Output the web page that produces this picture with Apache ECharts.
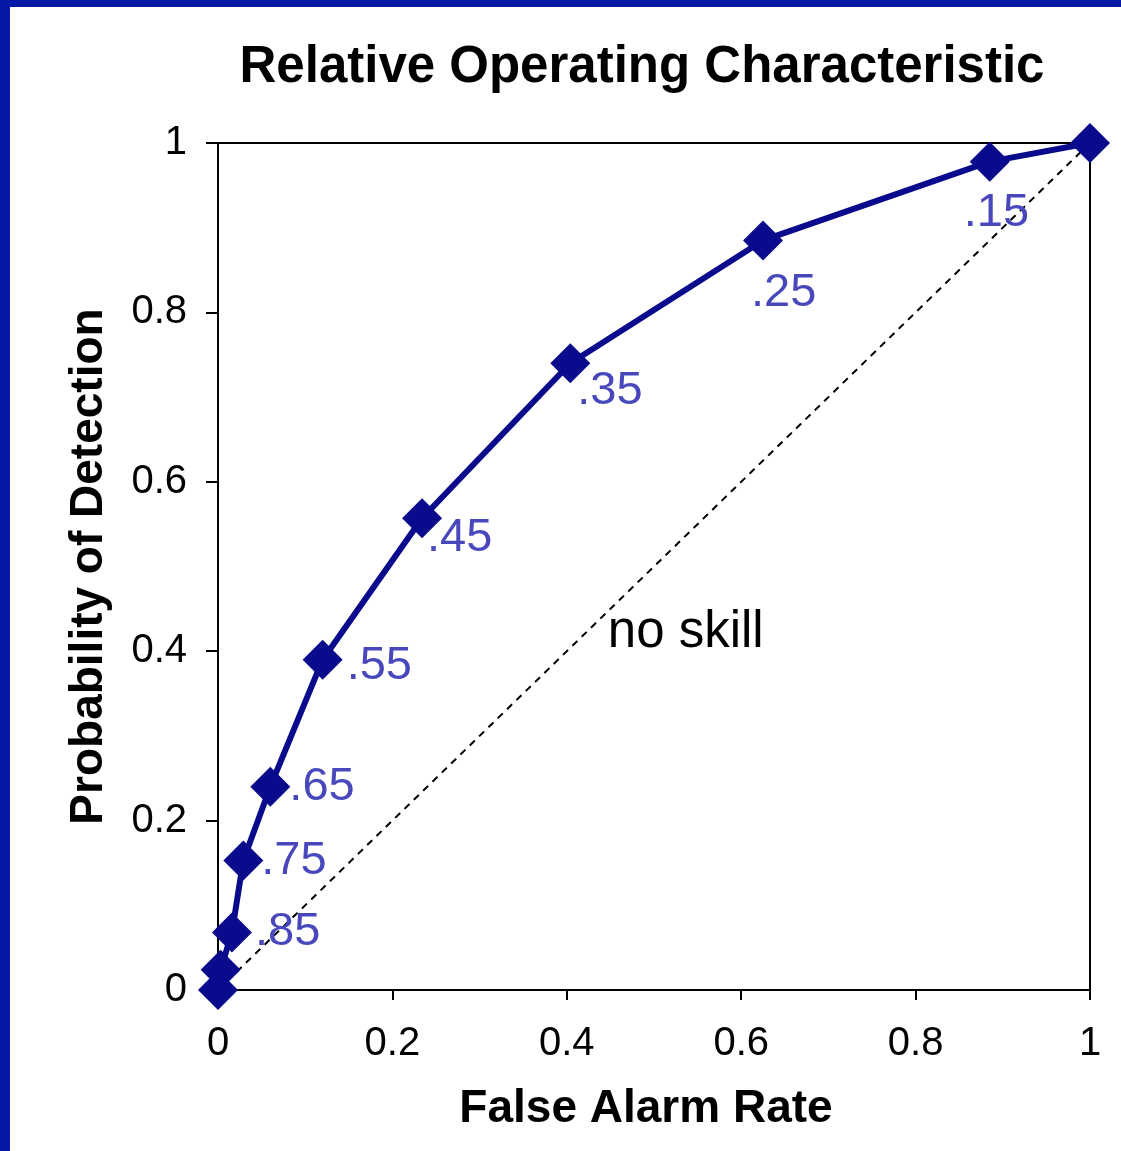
<!DOCTYPE html>
<html>
<head>
<meta charset="utf-8">
<script src="https://cdn.jsdelivr.net/npm/echarts@6/dist/echarts.min.js"></script>
<style>
html,body{margin:0;padding:0;background:#fff;}
#chart{width:1121px;height:1151px;}
</style>
</head>
<body>
<div id="chart"></div>
<script>
// ROC data (false alarm rate, probability of detection) with threshold labels
const falseAlarmRate = [0, 0.003, 0.016, 0.029, 0.06, 0.12, 0.234, 0.404, 0.625, 0.885, 1.0];
const probDetection  = [0, 0.024, 0.068, 0.153, 0.24, 0.39, 0.557, 0.74, 0.885, 0.978, 1.0];
const thresholdLabels = ['', '', '.85', '.75', '.65', '.55', '.45', '.35', '.25', '.15', ''];
const noSkillX = [0, 1];
const noSkillY = [0, 1];
const noSkillText = 'no skill';
const noSkillAt = [0.447, 0.421];
const axisTicks = [0, 0.2, 0.4, 0.6, 0.8, 1];

// label offsets (pixels from the marker centre) – layout only
const labelOffsets = [[0,0],[0,0],[23,0],[18,1],[19,0],[24,6],[5,20],[7,28],[-12,53],[-26,51],[0,0]];

const FONT = '"Liberation Sans", Arial, sans-serif';
const rocData = falseAlarmRate.map((x, i) => ({
  value: [x, probDetection[i]],
  label: {
    show: thresholdLabels[i] !== '',
    formatter: thresholdLabels[i],
    position: 'inside',
    align: 'left',
    verticalAlign: 'middle',
    offset: labelOffsets[i]
  }
}));

const chart = echarts.init(document.getElementById('chart'));
chart.setOption({
  animation: false,
  backgroundColor: '#ffffff',
  title: {
    text: 'Relative Operating Characteristic',
    left: 637, top: 37, textAlign: 'center',
    textStyle: {fontFamily: FONT, fontWeight: 'bold', fontSize: 51, color: '#000'}
  },
  graphic: [
    {type: 'rect', left: 0, top: 0, shape: {width: 1121, height: 7}, style: {fill: '#0619a6'}},
    {type: 'rect', left: 0, top: 0, shape: {width: 10, height: 1151}, style: {fill: '#0619a6'}}
  ],
  grid: {left: 218, right: 31, top: 143, bottom: 161, show: true, borderColor: '#000', borderWidth: 2, backgroundColor: 'transparent'},
  xAxis: {
    type: 'value', min: axisTicks[0], max: axisTicks[axisTicks.length-1], interval: 0.2,
    name: 'False Alarm Rate', nameLocation: 'middle', nameGap: 96,
    nameTextStyle: {fontFamily: FONT, fontWeight: 'bold', fontSize: 46, color: '#000', padding: [0, 16, 0, 0]},
    axisLine: {show: true, onZero: false, lineStyle: {color: '#000', width: 2}},
    axisTick: {show: true, length: 10, lineStyle: {color: '#000', width: 2}},
    axisLabel: {fontFamily: FONT, fontSize: 40, color: '#000', margin: 34},
    splitLine: {show: false}
  },
  yAxis: {
    type: 'value', min: axisTicks[0], max: axisTicks[axisTicks.length-1], interval: 0.2,
    name: 'Probability of Detection', nameLocation: 'middle', nameGap: 106,
    nameTextStyle: {fontFamily: FONT, fontWeight: 'bold', fontSize: 46, color: '#000'},
    axisLine: {show: true, onZero: false, lineStyle: {color: '#000', width: 2}},
    axisTick: {show: true, length: 12, lineStyle: {color: '#000', width: 2}},
    axisLabel: {fontFamily: FONT, fontSize: 40, color: '#000', margin: 31},
    splitLine: {show: false}
  },
  series: [
    {
      type: 'line', name: 'no skill',
      data: noSkillX.map((x, i) => [x, noSkillY[i]]),
      symbol: 'none', silent: true,
      lineStyle: {color: '#000', width: 2, type: [7, 6]},
      z: 1
    },
    {
      type: 'scatter', name: 'annotation',
      data: [{value: noSkillAt}],
      symbolSize: 0, silent: true,
      itemStyle: {opacity: 1, color: '#000'},
      label: {show: true, formatter: noSkillText, position: 'inside', align: 'left', verticalAlign: 'middle',
        fontFamily: FONT, fontSize: 51, color: '#000', opacity: 1}
    },
    {
      type: 'line', name: 'ROC',
      data: rocData,
      symbol: 'diamond', symbolSize: 40, clip: false,
      lineStyle: {color: '#0a0a8c', width: 6},
      itemStyle: {color: '#0a0a8c'},
      label: {fontFamily: FONT, fontSize: 47, color: '#4848bc'},
      z: 3
    }
  ]
});
</script>
</body>
</html>
